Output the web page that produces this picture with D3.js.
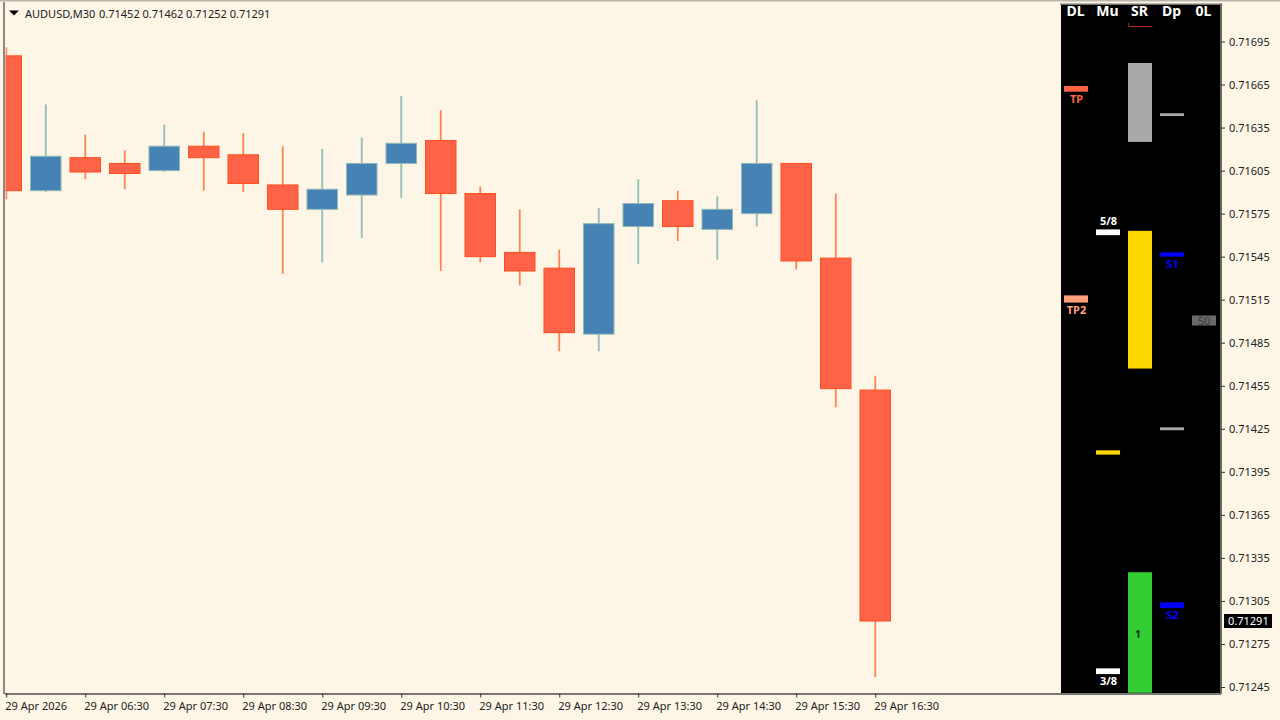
<!DOCTYPE html>
<html>
<head>
<meta charset="utf-8">
<script src="https://cdnjs.cloudflare.com/ajax/libs/d3/7.8.5/d3.min.js"></script>
<style>
  html, body { margin: 0; padding: 0; background: #fdf5e6; }
  svg { display: block; }
  text { font-family: "Noto Sans", sans-serif; }
</style>
</head>
<body>
<svg id="chart" width="1280" height="720"></svg>
<script>
// candles, values in 1e-5 of a point
var opens  = [71685,71591,71614,71610,71605,71622,71616,71595,71578,71588,71610,71626,71589,71548,71537,71491,71566,71584,71564,71575,71610,71544,71452];
var highs  = [71691,71651,71630,71619,71637,71632,71631,71622,71620,71628,71657,71647,71594,71578,71550,71579,71599,71591,71587,71654,71610,71589,71462];
var lows   = [71585,71590,71599,71592,71604,71591,71590,71533,71541,71558,71586,71535,71541,71525,71479,71479,71540,71556,71543,71566,71536,71440,71252];
var closes = [71591,71615,71604,71603,71622,71614,71596,71578,71592,71610,71624,71589,71545,71535,71492,71568,71582,71566,71578,71610,71542,71453,71291];

var priceTicks = [71695,71665,71635,71605,71575,71545,71515,71485,71455,71425,71395,71365,71335,71305,71275,71245];
var timeTickIdx = [0,2,4,6,8,10,12,14,16,18,20,22];
var timeLabels = ["29 Apr 2026","29 Apr 06:30","29 Apr 07:30","29 Apr 08:30","29 Apr 09:30","29 Apr 10:30","29 Apr 11:30","29 Apr 12:30","29 Apr 13:30","29 Apr 14:30","29 Apr 15:30","29 Apr 16:30"];

// indicator panel
var columns = ["DL","Mu","SR","Dp","0L"];
var levelCols   = ["DL","DL","Mu","Mu","Mu","SR","SR","SR","Dp","Dp","Dp","Dp","0L"];
var levelTops   = [71664,71518,71564,71410,71258,71680,71563,71325,71645,71548,71304,71426,71504];
var levelBots   = [71660,71513,71560,71407,71254,71625,71467,71241,71643,71545,71300,71424,71497];
var levelColors = ["#ff6347","#ffa07a","#ffffff","#ffd700","#ffffff","#a9a9a9","#ffd700","#32cd32","#a9a9a9","#0000ff","#0000ff","#a9a9a9","#696969"];

var levelLabels = ["TP","TP2","5/8","3/8","S1","S2"];
var labelCols   = ["DL","DL","Mu","Mu","Dp","Dp"];
var labelPrices = [71664,71517,71564,71258,71549,71304];
var labelSides  = [1,1,-1,1,1,1];
var labelColors = ["#ff6347","#ffa07a","#ffffff","#ffffff","#0000ff","#0000ff"];

var lastPrice = 71291;
var bg = "#fdf5e6";

var svg = d3.select("#chart");

var y = d3.scaleLinear().domain([71695, 71245]).range([41.5, 687]);
var x = d3.scaleLinear().domain([0, 22]).range([6.25, 875.25]);
var col = d3.scaleBand().domain(columns).range([1060, 1220]);
var barW = 24, bodyW = 30.5;

svg.append("rect").attr("width", 1280).attr("height", 720).attr("fill", bg);

// window frame
svg.append("rect").attr("x", 0).attr("y", 0).attr("width", 1280).attr("height", 1.5).attr("fill", "#b9b6ae");
svg.append("rect").attr("x", 3).attr("y", 2).attr("width", 2).attr("height", 692).attr("fill", "#8a8a86");

// candles
svg.append("defs").append("clipPath").attr("id", "plot")
  .append("rect").attr("x", 5.5).attr("y", 5).attr("width", 1055).attr("height", 688);
var plot = svg.append("g").attr("clip-path", "url(#plot)");

var candles = plot.selectAll("g.candle").data(d3.range(opens.length)).join("g").attr("class", "candle");
candles.append("line")
  .attr("x1", function (i) { return x(i); }).attr("x2", function (i) { return x(i); })
  .attr("y1", function (i) { return y(highs[i]); }).attr("y2", function (i) { return y(lows[i]); })
  .attr("stroke", function (i) { return closes[i] > opens[i] ? "#93bdb8" : "#ff8355"; })
  .attr("stroke-width", 1.8);
candles.append("rect")
  .attr("x", function (i) { return x(i) - bodyW / 2; })
  .attr("width", bodyW)
  .attr("y", function (i) { return y(Math.max(opens[i], closes[i])); })
  .attr("height", function (i) { return Math.abs(y(opens[i]) - y(closes[i])); })
  .attr("fill", function (i) { return closes[i] > opens[i] ? "#4682b4" : "#ff6347"; })
  .attr("stroke", function (i) { return closes[i] > opens[i] ? "#8fb8b8" : "#ff4f20"; })
  .attr("stroke-width", 1);

// panel
svg.append("rect").attr("x", 1061).attr("y", 5).attr("width", 159).attr("height", 688).attr("fill", "#000");
svg.append("rect").attr("x", 1060).attr("y", 3.5).attr("width", 161).attr("height", 1.5).attr("fill", "#77736c");
svg.selectAll("rect.level").data(d3.range(levelCols.length)).join("rect").attr("class", "level")
  .attr("x", function (i) { return col(levelCols[i]) + col.bandwidth() / 2 - barW / 2; })
  .attr("width", barW)
  .attr("y", function (i) { return y(levelTops[i]); })
  .attr("height", function (i) { return y(levelBots[i]) - y(levelTops[i]); })
  .attr("fill", function (i) { return levelColors[i]; });

svg.selectAll("text.head").data(columns).join("text").attr("class", "head")
  .attr("x", function (d) { return col(d) + col.bandwidth() / 2 - 0.5; })
  .attr("y", 16).attr("text-anchor", "middle")
  .attr("fill", "#fff").attr("font-size", 14).attr("font-weight", 700)
  .text(function (d) { return d; });

svg.selectAll("text.lab").data(levelLabels).join("text").attr("class", "lab")
  .attr("x", function (d, i) { return col(labelCols[i]) + col.bandwidth() / 2 + 0.5; })
  .attr("y", function (d, i) { return labelSides[i] > 0 ? y(labelPrices[i]) + 17 : y(labelPrices[i]) - 4; })
  .attr("text-anchor", "middle").attr("font-size", 11).attr("font-weight", 700)
  .attr("fill", function (d, i) { return labelColors[i]; })
  .text(function (d) { return d; });

// small marks inside the panel
svg.append("path")
  .attr("d", "M1128.5 23V26.5H1152.5").attr("fill", "none").attr("stroke", "#a52a1a").attr("stroke-width", 1);
svg.append("text").attr("x", col("SR") + col.bandwidth() / 2 - 2).attr("y", 638)
  .attr("text-anchor", "middle").attr("font-size", 11).attr("font-weight", 700).attr("fill", "#0a3a0a").text("1");
svg.append("text").attr("x", col("0L") + col.bandwidth() / 2).attr("y", y(71500) + 4)
  .attr("text-anchor", "middle").attr("font-size", 11).attr("fill", "#3c3c3c").text("50");

// axes
var xAxis = d3.axisBottom(x).tickValues(timeTickIdx).tickSize(4).tickPadding(5)
  .tickFormat(function (d, i) { return timeLabels[i]; });
var gx = svg.append("g").attr("transform", "translate(0,693.5)").call(xAxis);
gx.select(".domain").attr("d", "M5,0.5H1221").attr("stroke", "#4d4d4d").attr("stroke-width", 1.5);
gx.selectAll("line").attr("stroke", "#333");
gx.selectAll("text").attr("text-anchor", "start").attr("dx", -1.5).attr("font-size", 11)
  .attr("font-family", "Noto Sans").attr("fill", "#222");

var yAxis = d3.axisRight(y).tickValues(priceTicks).tickSize(4).tickPadding(4)
  .tickFormat(function (d) { return (d / 100000).toFixed(5); });
var gy = svg.append("g").attr("transform", "translate(1221,0)").call(yAxis);
gy.select(".domain").attr("d", "M0,3.5V694").attr("stroke", "#6b6963").attr("stroke-width", 2);
gy.selectAll("line").attr("stroke", "#333");
gy.selectAll("text").attr("font-size", 11).attr("font-family", "Noto Sans").attr("fill", "#222");

// current price tag
svg.append("rect").attr("x", 1224).attr("y", y(lastPrice) - 7).attr("width", 48).attr("height", 14).attr("fill", "#000");
svg.append("text").attr("x", 1228).attr("y", y(lastPrice) + 4)
  .attr("font-size", 11).attr("fill", "#fff").text((lastPrice / 100000).toFixed(5));

// title
svg.append("path").attr("d", "M9 10.5H19L14 15.5Z").attr("fill", "#000");
svg.append("text").attr("x", 25).attr("y", 18).attr("font-size", 11).attr("fill", "#222")
  .text("AUDUSD,M30");
svg.append("text").attr("x", 99).attr("y", 18).attr("font-size", 11).attr("fill", "#222")
  .text("0.71452 0.71462 0.71252 0.71291");
</script>
</body>
</html>
